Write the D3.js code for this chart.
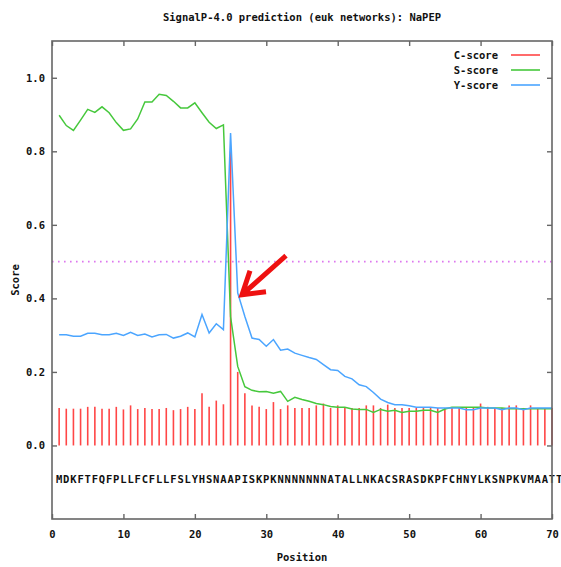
<!DOCTYPE html>
<html>
<head>
<meta charset="utf-8">
<script src="https://cdn.jsdelivr.net/npm/d3@7"></script>
<style>
  body { margin: 0; background: #fff; }
  svg text { font-family: "DejaVu Sans Mono", monospace; font-weight: bold; fill: #111; }
</style>
</head>
<body>
<div id="container"></div>
<script>
// data
var sequence = "MDKFTFQFPLLFCFLLFSLYHSNAAPISKPKNNNNNNNATALLNKACSRASDKPFCHNYLKSNPKVMAATT";

var cScore = [0.102, 0.100, 0.100, 0.100, 0.105, 0.105, 0.100, 0.100, 0.105, 0.098,
              0.109, 0.099, 0.102, 0.099, 0.099, 0.102, 0.096, 0.099, 0.105, 0.099,
              0.142, 0.105, 0.122, 0.112, 0.800, 0.200, 0.142, 0.109, 0.105, 0.099,
              0.118, 0.099, 0.109, 0.102, 0.102, 0.102, 0.109, 0.114, 0.102, 0.109,
              0.102, 0.102, 0.102, 0.109, 0.109, 0.102, 0.111, 0.102, 0.102, 0.102,
              0.102, 0.102, 0.102, 0.102, 0.102, 0.102, 0.102, 0.102, 0.102, 0.114,
              0.105, 0.102, 0.102, 0.109, 0.109, 0.102, 0.109, 0.102, 0.102, 0.102];

var sScore = [0.898, 0.870, 0.857, 0.885, 0.914, 0.906, 0.921, 0.905, 0.878, 0.857,
              0.861, 0.888, 0.934, 0.934, 0.955, 0.952, 0.936, 0.918, 0.918, 0.932,
              0.905, 0.879, 0.862, 0.872, 0.350, 0.215, 0.160, 0.150, 0.146, 0.147,
              0.142, 0.147, 0.120, 0.131, 0.125, 0.120, 0.114, 0.111, 0.106, 0.104,
              0.104, 0.099, 0.098, 0.098, 0.090, 0.098, 0.093, 0.096, 0.090, 0.093,
              0.093, 0.096, 0.096, 0.090, 0.099, 0.104, 0.104, 0.104, 0.104, 0.104,
              0.102, 0.102, 0.102, 0.100, 0.100, 0.100, 0.100, 0.100, 0.100, 0.100];

var yScore = [0.301, 0.301, 0.297, 0.297, 0.305, 0.305, 0.301, 0.301, 0.305, 0.299,
              0.308, 0.299, 0.303, 0.295, 0.301, 0.302, 0.292, 0.297, 0.306, 0.295,
              0.356, 0.306, 0.331, 0.315, 0.850, 0.415, 0.351, 0.292, 0.288, 0.270,
              0.288, 0.259, 0.262, 0.251, 0.245, 0.239, 0.234, 0.220, 0.206, 0.204,
              0.188, 0.181, 0.165, 0.160, 0.144, 0.126, 0.117, 0.111, 0.111, 0.108,
              0.104, 0.104, 0.104, 0.102, 0.102, 0.102, 0.102, 0.097, 0.097, 0.102,
              0.102, 0.102, 0.097, 0.102, 0.102, 0.097, 0.102, 0.102, 0.102, 0.102];

var xTicks = [0, 10, 20, 30, 40, 50, 60, 70];
var yTicks = [0.0, 0.2, 0.4, 0.6, 0.8, 1.0];
var threshold = 0.5;
var seriesNames = ["C-score", "S-score", "Y-score"];
var seriesColors = ["#ff4646", "#46c83c", "#4ba5ff"];

var W = 561, H = 567;
var margin = {top: 41, right: 9, bottom: 48, left: 52};

var svg = d3.select("#container").append("svg")
    .attr("width", W).attr("height", H);

var x = d3.scaleLinear().domain([0, 70]).range([margin.left, W - margin.right]);
var y = d3.scaleLinear().domain([-0.2, 1.1]).range([H - margin.bottom, margin.top]);

// title
svg.append("text")
    .attr("x", (x(0) + x(70)) / 2).attr("y", 21)
    .attr("text-anchor", "middle")
    .style("font-size", "10.5px")
    .text("SignalP-4.0 prediction (euk networks): NaPEP");

// threshold line
svg.append("line")
    .attr("x1", x(0)).attr("x2", x(70))
    .attr("y1", y(threshold)).attr("y2", y(threshold))
    .attr("stroke", "#dd77ee").attr("stroke-width", 1.6)
    .attr("stroke-dasharray", "1.6,4.4");

// C-score impulses
svg.append("g").selectAll("line")
    .data(cScore)
    .enter().append("line")
    .attr("x1", function(d, i) { return x(i + 1); })
    .attr("x2", function(d, i) { return x(i + 1); })
    .attr("y1", y(0))
    .attr("y2", function(d) { return y(d); })
    .attr("stroke", seriesColors[0])
    .attr("stroke-width", 1.6);

var line = d3.line()
    .x(function(d, i) { return x(i + 1); })
    .y(function(d) { return y(d); });

svg.append("path").datum(sScore)
    .attr("d", line).attr("fill", "none")
    .attr("stroke", seriesColors[1]).attr("stroke-width", 1.5);

svg.append("path").datum(yScore)
    .attr("d", line).attr("fill", "none")
    .attr("stroke", seriesColors[2]).attr("stroke-width", 1.5);

// sequence letters
svg.append("g").selectAll("text")
    .data(sequence.split(""))
    .enter().append("text")
    .attr("x", function(d, i) { return x(i + 1); })
    .attr("y", y(-0.09) + 4)
    .attr("text-anchor", "middle")
    .style("font-size", "10.5px")
    .text(function(d) { return d; });

// axes, ticks pointing inward, mirrored on top and right
var axisStyle = function(g) {
    g.select(".domain").remove();
    g.selectAll(".tick line").attr("stroke", "#666").attr("stroke-width", 1.4);
    g.selectAll("text").style("font-size", "10.5px").attr("fill", "#111");
};

svg.append("g")
    .attr("transform", "translate(0," + y(-0.2) + ")")
    .call(d3.axisBottom(x).tickValues(xTicks).tickSizeInner(-5).tickSizeOuter(0).tickPadding(12)
        .tickFormat(d3.format("d")))
    .call(axisStyle);

svg.append("g")
    .attr("transform", "translate(0," + y(1.1) + ")")
    .call(d3.axisTop(x).tickValues(xTicks).tickSizeInner(-5).tickSizeOuter(0).tickFormat(""))
    .call(axisStyle);

svg.append("g")
    .attr("transform", "translate(" + x(0) + ",0)")
    .call(d3.axisLeft(y).tickValues(yTicks).tickSizeInner(-5).tickSizeOuter(0).tickPadding(7)
        .tickFormat(d3.format(".1f")))
    .call(axisStyle);

svg.append("g")
    .attr("transform", "translate(" + x(70) + ",0)")
    .call(d3.axisRight(y).tickValues(yTicks).tickSizeInner(-5).tickSizeOuter(0).tickFormat(""))
    .call(axisStyle);

// frame
svg.append("rect")
    .attr("x", x(0)).attr("y", y(1.1))
    .attr("width", x(70) - x(0)).attr("height", y(-0.2) - y(1.1))
    .attr("fill", "none").attr("stroke", "#666").attr("stroke-width", 1.6);

// axis titles
svg.append("text")
    .attr("x", (x(0) + x(70)) / 2).attr("y", 561)
    .attr("text-anchor", "middle")
    .style("font-size", "10.5px")
    .text("Position");

svg.append("text")
    .attr("transform", "translate(19," + ((y(-0.2) + y(1.1)) / 2) + ") rotate(-90)")
    .attr("text-anchor", "middle")
    .style("font-size", "10.5px")
    .text("Score");

// legend
var legend = svg.append("g").selectAll("g")
    .data(seriesNames)
    .enter().append("g")
    .attr("transform", function(d, i) { return "translate(0," + (55 + i * 15) + ")"; });

legend.append("text")
    .attr("x", 498).attr("y", 4)
    .attr("text-anchor", "end")
    .style("font-size", "10.5px")
    .text(function(d) { return d; });

legend.append("line")
    .attr("x1", 511).attr("x2", 540)
    .attr("y1", 0).attr("y2", 0)
    .attr("stroke", function(d, i) { return seriesColors[i]; })
    .attr("stroke-width", 1.6);

// red arrow pointing at the Y-score just after the peak
var tipX = x(26.6), tipY = y(0.41);
svg.append("path")
    .attr("d", "M" + (tipX + 44) + "," + (tipY - 39) + " L" + tipX + "," + tipY +
               " M" + (tipX + 8) + "," + (tipY - 24) + " L" + tipX + "," + tipY +
               " L" + (tipX + 24) + "," + (tipY - 3))
    .attr("fill", "none")
    .attr("stroke", "#ee1111")
    .attr("stroke-width", 5)
    .attr("stroke-linejoin", "miter")
    .attr("stroke-linecap", "butt");
</script>
</body>
</html>
